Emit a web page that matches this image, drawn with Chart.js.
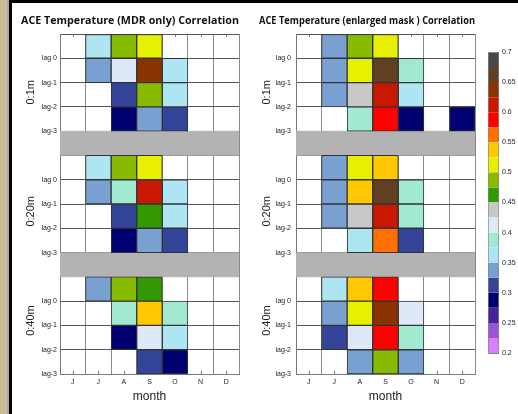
<!DOCTYPE html>
<html><head><meta charset="utf-8">
<script src="https://cdn.jsdelivr.net/npm/chart.js@4"></script>
<style>
html,body{margin:0;padding:0;background:#fff;width:518px;height:414px;overflow:hidden;position:relative}
.f{position:absolute}
canvas{position:absolute}
</style></head><body>
<div class="f" style="left:0;top:0;width:7px;height:414px;background:#c9bd99"></div>
<div class="f" style="left:7px;top:0;width:2px;height:414px;background:#a8a8a8"></div>
<div class="f" style="left:9px;top:0;width:3px;height:414px;background:#000"></div>
<div class="f" style="left:9px;top:0;width:509px;height:3px;background:#000"></div>
<canvas id="cL" width="238" height="414" style="left:21px;top:0"></canvas>
<canvas id="cR" width="253" height="414" style="left:259px;top:0"></canvas>
<canvas id="cB" width="48" height="330" style="left:470px;top:40px"></canvas>
<script>
// ---------- data ----------
const months = ['J','J','A','S','O','N','D'];
const lagLabels = ['lag 0','lag-1','lag-2','lag-3'];
const depthLabels = ['0:1m','0:20m','0:40m'];
const depthPos = [2.4, 7.3, 11.8];
const titleLeft = 'ACE Temperature (MDR only) Correlation';
const titleRight = 'ACE Temperature (enlarged mask ) Correlation';

const mdr1m = [
 [null,0.36,0.49,0.51,null,null,null],
 [null,0.34,0.41,0.64,0.36,null,null],
 [null,null,0.31,0.49,0.36,null,null],
 [null,null,0.29,0.34,0.31,null,null]];
const mdr20m = [
 [null,0.36,0.49,0.51,null,null,null],
 [null,0.34,0.39,0.61,0.36,null,null],
 [null,null,0.31,0.46,0.36,null,null],
 [null,null,0.29,0.34,0.31,null,null]];
const mdr40m = [
 [null,0.34,0.49,0.46,null,null,null],
 [null,null,0.39,0.54,0.39,null,null],
 [null,null,0.29,0.41,0.36,null,null],
 [null,null,null,0.31,0.29,null,null]];
const enl1m = [
 [null,0.34,0.49,0.51,null,null,null],
 [null,0.34,0.51,0.66,0.39,null,null],
 [null,0.34,0.44,0.61,0.36,null,null],
 [null,null,0.39,0.59,0.29,null,0.29]];
const enl20m = [
 [null,0.34,0.51,0.54,null,null,null],
 [null,0.34,0.54,0.66,0.39,null,null],
 [null,0.34,0.44,0.61,0.39,null,null],
 [null,null,0.36,0.56,0.31,null,null]];
const enl40m = [
 [null,0.36,0.54,0.59,null,null,null],
 [null,0.34,0.51,0.64,0.41,null,null],
 [null,0.31,0.41,0.59,0.39,null,null],
 [null,null,0.34,0.49,0.34,null,null]];

const cbMin = 0.2, cbStep = 0.025;
const cbColors = ['#d77fff','#9955d5','#4422a0','#000070','#334499','#78a0d0','#ade6f2','#a2e9d2','#dde8f8','#c8c8c8',
                  '#339900','#88bb00','#e6f000','#ffc800','#ff7000','#ff0000','#c81800','#883300','#604020','#484848'];
const cbTicks = [0.2,0.25,0.3,0.35,0.4,0.45,0.5,0.55,0.6,0.65,0.7];

// ---------- helpers ----------
function colorFor(v){
  let i = Math.floor((v - cbMin) / cbStep + 1e-9);
  i = Math.max(0, Math.min(cbColors.length - 1, i));
  return cbColors[i];
}
const common = {grouped:false, categoryPercentage:1, barPercentage:1, borderSkipped:false};
function buildDatasets(panels){
  const ds = [];
  panels.forEach((panel, p) => {
    panel.forEach((row, r) => {
      const y0 = p * 5 + r;
      ds.push(Object.assign({
        data: row.map(v => v == null ? null : [y0, y0 + 1]),
        backgroundColor: row.map(v => v == null ? 'rgba(0,0,0,0)' : colorFor(v)),
        borderColor: '#333', borderWidth: 1
      }, common));
    });
  });
  [4, 9].forEach(g => ds.push(Object.assign({
    data: months.map(() => [g, g + 1]),
    backgroundColor: '#b3b3b3', borderWidth: 0
  }, common)));
  return ds;
}
const decoPlugin = {
  id: 'deco',
  beforeDatasetsDraw(chart){
    const {ctx, chartArea, scales:{x}} = chart;
    ctx.save();
    ctx.strokeStyle = '#777'; ctx.lineWidth = 1;
    months.forEach((m, i) => {
      const px = Math.round(x.getPixelForValue(i)) + 0.5;
      ctx.beginPath();
      ctx.moveTo(px, chartArea.top); ctx.lineTo(px, chartArea.top + 3);
      ctx.moveTo(px, chartArea.bottom); ctx.lineTo(px, chartArea.bottom - 3);
      ctx.stroke();
    });
    ctx.restore();
  },
  afterDraw(chart){
    const {ctx, chartArea, scales:{y}} = chart;
    ctx.save();
    ctx.fillStyle = '#222'; ctx.font = '11px "Liberation Sans"';
    ctx.textAlign = 'center'; ctx.textBaseline = 'middle';
    depthLabels.forEach((t, i) => {
      const py = y.getPixelForValue(depthPos[i]);
      ctx.save(); ctx.translate(chartArea.left - 29, py); ctx.rotate(-Math.PI / 2);
      ctx.fillText(t, 0, 0); ctx.restore();
    });
    ctx.restore();
  }
};
function lagTick(v){
  const k = v % 5;
  return k === 0 ? '' : lagLabels[k - 1];
}
function makeHeat(id, panels, title, yWidth, padRight, tickPad){
  new Chart(document.getElementById(id), {
    type: 'bar',
    data: {labels: months, datasets: buildDatasets(panels)},
    plugins: [decoPlugin],
    options: {
      responsive: false, animation: false, devicePixelRatio: 1,
      layout: {padding: {left: 0, right: padRight, top: 0, bottom: 0}},
      plugins: {
        legend: {display: false}, tooltip: {enabled: false},
        title: {display: true, text: title, fullSize: true, color: '#111',
                font: {family: '"Open Sans"', size: 11, weight: 'bold'},
                padding: {top: 14, bottom: 6.8}}
      },
      scales: {
        x: {
          type: 'category',
          grid: {offset: true, color: '#8a8a8a', drawTicks: false},
          border: {color: '#777'},
          ticks: {color: '#222', font: {family: '"Liberation Sans"', size: 7}, padding: 4},
          title: {display: true, text: 'month', color: '#222',
                  font: {family: '"Liberation Sans"', size: 12}, padding: {top: 0, bottom: 10}},
          afterFit: s => { s.height = 40; }
        },
        y: {
          type: 'linear', min: 0, max: 14, reverse: true,
          afterBuildTicks: s => { s.ticks = Array.from({length: 15}, (_, i) => ({value: i})); },
          grid: {color: '#555', drawTicks: false},
          border: {color: '#777'},
          ticks: {autoSkip: false, color: '#222', font: {family: '"Liberation Sans"', size: 7},
                  padding: tickPad, callback: v => lagTick(v)},
          afterFit: s => { s.width = yWidth; }
        }
      }
    }
  });
}
makeHeat('cL', [mdr1m, mdr20m, mdr40m], titleLeft, 39, 20, 3);
makeHeat('cR', [enl1m, enl20m, enl40m], titleRight, 37, 37, 5);

// ---------- colorbar ----------
new Chart(document.getElementById('cB'), {
  type: 'bar',
  data: {
    labels: ['c'],
    datasets: cbColors.map((c, i) => Object.assign({
      data: [[cbMin + i * cbStep, cbMin + (i + 1) * cbStep]],
      backgroundColor: c, borderColor: '#888',
      borderWidth: {left: 1, right: 1, top: 0, bottom: 0}
    }, common))
  },
  options: {
    responsive: false, animation: false, devicePixelRatio: 1,
    layout: {padding: {left: 18, right: 0, top: 12, bottom: 17}},
    plugins: {legend: {display: false}, tooltip: {enabled: false}},
    scales: {
      x: {display: false},
      y: {
        position: 'right', min: 0.2, max: 0.7,
        afterBuildTicks: s => { s.ticks = cbTicks.map(v => ({value: v})); },
        grid: {z: 1, drawTicks: false,
               color: ctx => (ctx.index === 0 || ctx.index === cbTicks.length - 1) ? '#888' : 'rgba(0,0,0,0)'},
        border: {display: false},
        ticks: {color: '#222', font: {family: '"Liberation Sans"', size: 7}, padding: 3,
                callback: v => String(+(+v).toFixed(2))},
        afterFit: s => { s.width = 19; }
      }
    }
  }
});
</script>
</body></html>
